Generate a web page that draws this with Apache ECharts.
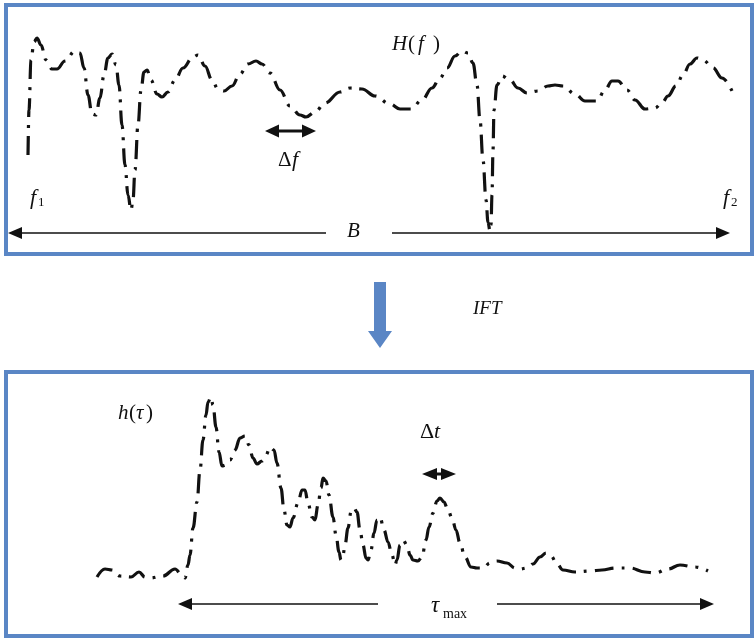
<!DOCTYPE html>
<html>
<head>
<meta charset="utf-8">
<title>H(f) and h(τ)</title>
<script src="https://cdn.jsdelivr.net/npm/echarts@6/dist/echarts.min.js"></script>
<style>
  html, body { margin: 0; padding: 0; background: #ffffff; }
  #chart { width: 755px; height: 638px; }
</style>
</head>
<body>
<div id="chart"></div>
<script>
// Frequency response across the band B (arbitrary frequency units / magnitude units)
const freqPts = [20, 21, 23, 26, 29, 33, 38, 44, 49, 57, 67, 72, 76, 80, 84, 88, 92, 96, 100, 104,
  108, 111, 114, 117, 120, 123, 125, 127, 130, 133, 136, 139, 143, 149, 154, 160, 167, 175, 185, 190,
  197, 204, 210, 216, 224, 232, 240, 248, 254, 262, 272, 282, 292, 298, 307, 317, 332, 342, 354, 367,
  382, 392, 403, 414, 424, 432, 439, 447, 454, 460, 465, 469, 472, 475, 478, 480, 482, 483, 484, 485,
  486, 489, 494, 502, 510, 519, 530, 540, 547, 555, 567, 577, 589, 597, 604, 610, 619, 627, 637, 647,
  654, 660, 668, 675, 682, 689, 695, 705, 714, 725];
const freqResp = [85, 130, 180, 198, 202, 195, 180, 171, 171, 179, 189, 187, 172, 145, 126, 125, 142, 165, 182, 186,
  175, 155, 115, 75, 45, 30, 40, 70, 115, 150, 168, 170, 160, 146, 143, 148, 160, 172, 183, 185,
  174, 160, 151, 149, 154, 166, 176, 179, 176, 167, 150, 134, 125, 123, 128, 137, 148, 152, 151, 144,
  136, 131, 131, 140, 152, 162, 172, 184, 189, 187, 177, 155, 120, 80, 40, 18, 9, 15, 45, 90,
  130, 155, 164, 160, 152, 147, 149, 154, 155, 154, 146, 139, 139, 150, 159, 159, 150, 140, 131, 132,
  137, 144, 154, 165, 176, 182, 180, 172, 162, 147];

// Impulse response over the delay span tau_max
const delayPts = [89, 97, 104, 112, 123, 131, 137, 142, 155, 167, 174, 177, 180, 182, 185, 189, 192, 195, 198, 200,
  203, 205, 208, 211, 214, 218, 222, 227, 232, 237, 241, 245, 249, 254, 258, 262, 266, 269, 273, 276,
  279, 282, 285, 290, 294, 297, 300, 304, 307, 310, 313, 315, 318, 321, 325, 328, 331, 333, 335, 337,
  340, 343, 346, 349, 352, 355, 358, 360, 363, 366, 369, 372, 376, 380, 384, 387, 389, 392, 395, 399,
  402, 405, 410, 414, 418, 421, 425, 429, 432, 436, 440, 444, 448, 452, 457, 463, 469, 475, 482, 489,
  499, 507, 512, 519, 525, 532, 538, 543, 549, 555, 567, 582, 594, 607, 622, 637, 647, 660, 672, 687, 700];
const impulseResp = [13, 21, 20, 14, 13, 18, 13, 12, 14, 21, 15, 12, 25, 35, 62, 88, 120, 150, 175, 188,
  193, 185, 163, 138, 124, 125, 130, 140, 152, 154, 145, 132, 126, 129, 135, 143, 140, 127, 102, 80,
  65, 63, 72, 87, 100, 100, 87, 73, 70, 85, 102, 112, 109, 95, 73, 55, 38, 30, 35, 45,
  62, 78, 82, 78, 60, 45, 32, 30, 40, 57, 70, 73, 60, 48, 35, 25, 30, 45, 50, 45,
  35, 30, 29, 33, 50, 63, 77, 89, 92, 88, 80, 72, 60, 47, 33, 23, 22, 22, 27, 29,
  27, 22, 21, 22, 26, 33, 37, 34, 26, 20, 18, 19, 20, 22, 22, 18, 17, 21, 25, 23, 19];

const zip = (xs, ys) => xs.map((x, i) => [x, ys[i]]);

const INK = '#111111';
const FRAME = '#5a86c5';
const SERIF = '"Liberation Serif", "DejaVu Serif", serif';

// dash-dot stroke shared by both curves
const curveStyle = {
  color: INK,
  width: 3.2,
  type: [19, 8, 3, 8],
  cap: 'butt'
};

// Horizontal arrow: a shaft with filled triangular heads
function arrow(x1, x2, y, opts) {
  const o = Object.assign({ left: true, right: true, len: 14, half: 6, width: 1.6 }, opts || {});
  const els = [];
  const sx1 = o.left ? x1 + o.len - 1 : x1;
  const sx2 = o.right ? x2 - o.len + 1 : x2;
  els.push({ type: 'line', shape: { x1: sx1, y1: y, x2: sx2, y2: y }, style: { stroke: INK, lineWidth: o.width } });
  if (o.left) {
    els.push({ type: 'polygon', shape: { points: [[x1, y], [x1 + o.len, y - o.half], [x1 + o.len, y + o.half]] }, style: { fill: INK } });
  }
  if (o.right) {
    els.push({ type: 'polygon', shape: { points: [[x2, y], [x2 - o.len, y - o.half], [x2 - o.len, y + o.half]] }, style: { fill: INK } });
  }
  return els;
}

function label(text, x, y, size, italic, align) {
  return {
    type: 'text',
    x: x, y: y,
    style: {
      text: text,
      fill: INK,
      font: (italic ? 'italic ' : '') + size + 'px ' + SERIF,
      align: align || 'left',
      verticalAlign: 'middle'
    }
  };
}

const graphics = [].concat(
  [
    { type: 'rect', shape: { x: 6, y: 5, width: 746, height: 249 }, style: { fill: 'none', stroke: FRAME, lineWidth: 4 } },
    { type: 'rect', shape: { x: 6, y: 372, width: 746, height: 264 }, style: { fill: 'none', stroke: FRAME, lineWidth: 4 } },
    { type: 'polygon', shape: { points: [[374, 282], [386, 282], [386, 331], [392, 331], [380, 348], [368, 331], [374, 331]] }, style: { fill: FRAME } }
  ],
  // band B
  arrow(8, 326, 233, { right: false }),
  arrow(392, 730, 233, { left: false }),
  // frequency resolution
  arrow(265, 316, 131, { len: 14, half: 6.5, width: 3 }),
  // time resolution
  arrow(422, 456, 474, { len: 15, half: 6, width: 3 }),
  // delay span
  arrow(178, 378, 604, { right: false }),
  arrow(497, 714, 604, { left: false }),
  [
    label('B', 347, 231, 21, true),
    label('f', 30, 198, 22, true),
    label('1', 38, 203, 13, false),
    label('f', 723, 198, 22, true),
    label('2', 731, 203, 13, false),
    label('Δ', 278, 160, 21, false),
    label('f', 292, 160, 22, true),
    label('H', 392, 44, 21, true),
    label('(', 408, 44, 21, false),
    label('f', 418, 44, 21, true),
    label(')', 433, 44, 21, false),
    label('IFT', 473, 309, 19, true),
    label('h', 118, 413, 21, true),
    label('(', 129, 413, 21, false),
    label('τ', 136, 413, 21, true),
    label(')', 146, 413, 21, false),
    label('Δ', 420, 432, 22, false),
    label('t', 434, 432, 22, true),
    label('τ', 431, 606, 23, true),
    label('max', 443, 614, 14, false)
  ]
);

const chart = echarts.init(document.getElementById('chart'), null, { renderer: 'canvas' });
chart.setOption({
  animation: false,
  backgroundColor: '#ffffff',
  grid: [
    { left: 8, top: 30, width: 740, height: 210 },
    { left: 8, top: 380, width: 740, height: 210 }
  ],
  xAxis: [
    { type: 'value', gridIndex: 0, min: 0, max: 740, show: false },
    { type: 'value', gridIndex: 1, min: 0, max: 740, show: false }
  ],
  yAxis: [
    { type: 'value', gridIndex: 0, min: 0, max: 210, show: false },
    { type: 'value', gridIndex: 1, min: 0, max: 210, show: false }
  ],
  series: [
    {
      name: 'H(f)',
      type: 'line',
      xAxisIndex: 0,
      yAxisIndex: 0,
      data: zip(freqPts, freqResp),
      showSymbol: false,
      smooth: 0.4,
      smoothMonotone: 'x',
      lineStyle: curveStyle
    },
    {
      name: 'h(τ)',
      type: 'line',
      xAxisIndex: 1,
      yAxisIndex: 1,
      data: zip(delayPts, impulseResp),
      showSymbol: false,
      smooth: 0.4,
      smoothMonotone: 'x',
      lineStyle: curveStyle
    }
  ],
  graphic: { elements: graphics }
});
</script>
</body>
</html>
